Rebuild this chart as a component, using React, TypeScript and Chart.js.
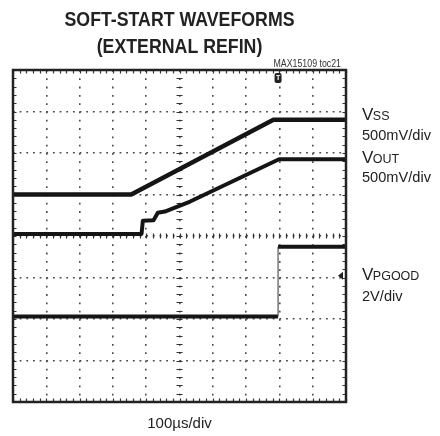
import { useEffect, useRef } from 'react';
import { Chart, registerables } from 'chart.js';

Chart.register(...registerables);

// ---- data (time and voltage in scope divisions) ----
const titleLines = ['SOFT-START WAVEFORMS', '(EXTERNAL REFIN)'];
const timeAxisLabel = '100µs/div';
const figureTag = 'MAX15109 toc21';

const vssX = [0, 3.55, 7.82, 10];
const vssY = [5.0, 5.0, 6.8, 6.8];

const voutX = [0, 3.86, 3.9, 4.22, 4.35, 4.56, 5.32, 7.99, 10];
const voutY = [4.05, 4.05, 4.37, 4.38, 4.56, 4.59, 4.83, 5.85, 5.85];

const pgoodX = [0, 7.96, 7.96, 10];
const pgoodY = [2.06, 2.06, 3.74, 3.74];

const channelNames = ['V', 'V', 'V'];
const channelSubs = ['SS', 'OUT', 'PGOOD'];
const channelScales = ['500mV/div', '500mV/div', '2V/div'];

const xDivisions = 10;
const yDivisions = 8;

const toPoints = (xs: number[], ys: number[]) => xs.map((x, i) => ({ x, y: ys[i] }));

const FONT = "'Liberation Sans', Arial, sans-serif";

// plot box geometry
const PAD_LEFT = 13;
const PAD_RIGHT = 94;
const PAD_TOP = 70;
const X_AXIS_H = 34;
const PLOT_W = 440 - PAD_LEFT - PAD_RIGHT;
const PLOT_H = 436 - PAD_TOP - X_AXIS_H;

const scopePlugin = {
  id: 'scope',
  beforeDatasetsDraw(chart: any) {
    const { ctx, chartArea: a, scales } = chart;
    const x = scales.x;
    const y = scales.y;
    ctx.save();
    ctx.strokeStyle = '#333';
    ctx.lineWidth = 1.2;
    ctx.beginPath();
    const cy = y.getPixelForValue(yDivisions / 2);
    const cx = x.getPixelForValue(xDivisions / 2);
    for (let i = 0; i <= xDivisions * 5; i++) {
      const px = Math.round(x.getPixelForValue(i * 0.2)) + 0.5;
      ctx.moveTo(px, a.top);
      ctx.lineTo(px, a.top + 3.5);
      ctx.moveTo(px, a.bottom);
      ctx.lineTo(px, a.bottom - 3.5);
      ctx.moveTo(px, cy - 2.5);
      ctx.lineTo(px, cy + 2.5);
    }
    for (let j = 0; j <= yDivisions * 5; j++) {
      const py = Math.round(y.getPixelForValue(j * 0.2)) + 0.5;
      ctx.moveTo(a.left, py);
      ctx.lineTo(a.left + 3.5, py);
      ctx.moveTo(a.right, py);
      ctx.lineTo(a.right - 3.5, py);
      ctx.moveTo(cx - 3, py);
      ctx.lineTo(cx + 3, py);
    }
    ctx.stroke();
    ctx.restore();
  },
  afterDraw(chart: any) {
    const { ctx, chartArea: a, scales } = chart;
    const x = scales.x;
    const y = scales.y;
    ctx.save();
    // frame
    ctx.strokeStyle = '#222';
    ctx.lineWidth = 2.5;
    ctx.strokeRect(a.left, a.top, a.right - a.left, a.bottom - a.top);

    // trigger marker "T"
    const tx = x.getPixelForValue(pgoodX[1]);
    ctx.fillStyle = '#222';
    ctx.beginPath();
    ctx.roundRect(tx - 3.5, a.top + 3, 7, 10, 2);
    ctx.fill();
    ctx.fillStyle = '#fff';
    ctx.font = `bold 7px ${FONT}`;
    ctx.textAlign = 'center';
    ctx.textBaseline = 'middle';
    ctx.fillText('T', tx, a.top + 8.5);

    // PGOOD ground marker on right edge
    const my = y.getPixelForValue(3.04);
    ctx.fillStyle = '#222';
    ctx.beginPath();
    ctx.moveTo(a.right - 8, my);
    ctx.lineTo(a.right - 3, my - 4);
    ctx.lineTo(a.right - 3, my + 4);
    ctx.closePath();
    ctx.fill();

    // title (condensed bold)
    const tcx = (a.left + a.right) / 2;
    ctx.fillStyle = '#222';
    ctx.font = `bold 21px ${FONT}`;
    ctx.textAlign = 'center';
    ctx.textBaseline = 'alphabetic';
    titleLines.forEach((line, i) => {
      ctx.save();
      ctx.translate(tcx, 26 + i * 27);
      ctx.scale(0.845, 1);
      ctx.fillText(line, 0, 0);
      ctx.restore();
    });

    // figure tag
    ctx.fillStyle = '#333';
    ctx.font = `11px ${FONT}`;
    ctx.textAlign = 'right';
    ctx.save();
    ctx.translate(a.right - 5, a.top - 3);
    ctx.scale(0.8, 1);
    ctx.fillText(figureTag, 0, 0);
    ctx.restore();

    // channel labels
    const lx = a.right + 16;
    const nameBaselines = [120, 163, 280];
    const scaleBaselines = [140, 182, 301];
    ctx.textAlign = 'left';
    ctx.fillStyle = '#222';
    channelNames.forEach((name, i) => {
      const b = nameBaselines[i];
      ctx.font = `17px ${FONT}`;
      ctx.fillText(name, lx, b);
      const w = ctx.measureText(name).width;
      ctx.font = `12.5px ${FONT}`;
      ctx.fillText(channelSubs[i], lx + w - 0.5, b);
      ctx.font = `14.6px ${FONT}`;
      ctx.fillText(channelScales[i], lx, scaleBaselines[i]);
    });
    ctx.restore();
  },
};

export default function App() {
  const ref = useRef<HTMLCanvasElement>(null);
  useEffect(() => {
    if (!ref.current) return;
    const traceColor = '#151515';
    const chart = new Chart(ref.current, {
      type: 'line',
      data: {
        datasets: [
          {
            label: 'VSS',
            data: toPoints(vssX, vssY),
            borderColor: traceColor,
            borderWidth: 4.5,
            pointRadius: 0,
            tension: 0,
            borderJoinStyle: 'round',
          },
          {
            label: 'VOUT',
            data: toPoints(voutX, voutY),
            borderColor: traceColor,
            borderWidth: 4,
            pointRadius: 0,
            tension: 0,
            borderJoinStyle: 'round',
          },
          {
            label: 'VPGOOD',
            data: toPoints(pgoodX, pgoodY),
            borderColor: traceColor,
            borderWidth: 4,
            pointRadius: 0,
            tension: 0,
            segment: {
              borderWidth: (c: any) => (Math.abs(c.p1.parsed.x - c.p0.parsed.x) < 0.01 ? 1.2 : 4),
              borderColor: (c: any) => (Math.abs(c.p1.parsed.x - c.p0.parsed.x) < 0.01 ? '#555' : traceColor),
            },
          },
        ],
      },
      options: {
        animation: false,
        responsive: false,
        devicePixelRatio: 1,
        layout: { padding: { left: PAD_LEFT, right: PAD_RIGHT, top: PAD_TOP, bottom: 0 } },
        plugins: {
          legend: { display: false },
          tooltip: { enabled: false },
          title: { display: false },
        },
        scales: {
          x: {
            type: 'linear',
            min: 0,
            max: xDivisions,
            ticks: { display: false, stepSize: 1 },
            border: { display: false, dash: [1.8, PLOT_H / yDivisions / 5 - 1.8] },
            grid: { color: '#4a4a4a', lineWidth: 1.6, drawTicks: false },
            title: {
              display: true,
              text: timeAxisLabel,
              color: '#222',
              font: { family: FONT, size: 15, lineHeight: 1.2 },
              padding: { top: 0, bottom: 3.5 },
            },
            afterFit: (s: any) => {
              s.height = X_AXIS_H;
            },
          },
          y: {
            type: 'linear',
            min: 0,
            max: yDivisions,
            ticks: { display: false, stepSize: 1 },
            border: { display: false, dash: [1.8, PLOT_W / xDivisions / 5 - 1.8] },
            grid: { color: '#4a4a4a', lineWidth: 1.6, drawTicks: false },
            afterFit: (s: any) => {
              s.width = 0;
            },
          },
        },
      },
      plugins: [scopePlugin],
    } as any);
    return () => chart.destroy();
  }, []);
  return (
    <div style={{ position: 'fixed', left: 0, top: 0, width: 440, height: 436, background: '#fff' }}>
      <canvas ref={ref} width={440} height={436} style={{ width: 440, height: 436, display: 'block' }} />
    </div>
  );
}
